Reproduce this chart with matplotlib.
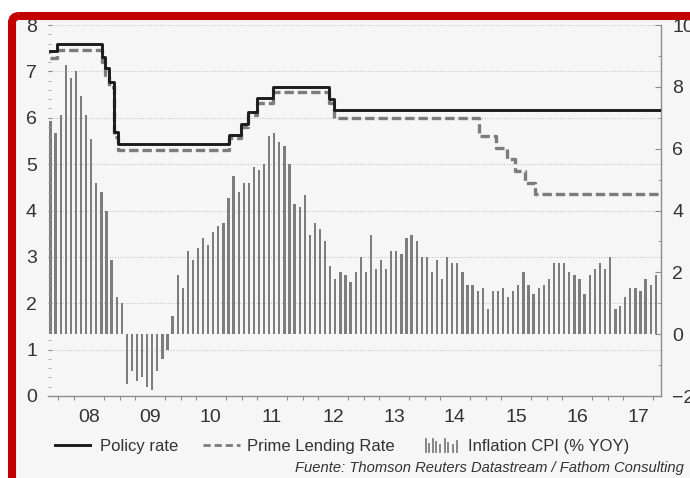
import datetime as dt
import matplotlib
matplotlib.use("Agg")
import matplotlib.pyplot as plt
import matplotlib.dates as mdates
from matplotlib.patches import FancyBboxPatch, Rectangle
from matplotlib.lines import Line2D
from matplotlib.ticker import MultipleLocator, FixedLocator

plt.rcParams['font.family'] = ['Liberation Sans', 'DejaVu Sans']

# ---------------- data ----------------
cpi_first_month = (2007, 11)
cpi_values = [
    6.9, 6.5,
    7.1, 8.7, 8.3, 8.5, 7.7, 7.1, 6.3, 4.9, 4.6, 4.0, 2.4, 1.2,
    1.0, -1.6, -1.2, -1.5, -1.4, -1.7, -1.8, -1.2, -0.8, -0.5, 0.6, 1.9,
    1.5, 2.7, 2.4, 2.8, 3.1, 2.9, 3.3, 3.5, 3.6, 4.4, 5.1, 4.6,
    4.9, 4.9, 5.4, 5.3, 5.5, 6.4, 6.5, 6.2, 6.1, 5.5, 4.2, 4.1,
    4.5, 3.2, 3.6, 3.4, 3.0, 2.2, 1.8, 2.0, 1.9, 1.7, 2.0, 2.5,
    2.0, 3.2, 2.1, 2.4, 2.1, 2.7, 2.7, 2.6, 3.1, 3.2, 3.0, 2.5,
    2.5, 2.0, 2.4, 1.8, 2.5, 2.3, 2.3, 2.0, 1.6, 1.6, 1.4, 1.5,
    0.8, 1.4, 1.4, 1.5, 1.2, 1.4, 1.6, 2.0, 1.6, 1.3, 1.5, 1.6,
    1.8, 2.3, 2.3, 2.3, 2.0, 1.9, 1.8, 1.3, 1.9, 2.1, 2.3, 2.1,
    2.5, 0.8, 0.9, 1.2, 1.5, 1.5, 1.4, 1.8, 1.6, 1.9,
]

policy_dates = ["2007-11-12", "2007-12-21", "2008-09-16", "2008-10-09", "2008-10-30",
                "2008-11-27", "2008-12-23", "2010-10-20", "2010-12-26", "2011-02-09",
                "2011-04-06", "2011-07-07", "2012-06-08", "2012-07-06", "2017-11-15"]
policy_values = [7.44, 7.60, 7.32, 7.07, 6.78, 5.70, 5.44, 5.62, 5.87, 6.12,
                 6.43, 6.67, 6.41, 6.16, 6.16]

prime_dates = ["2007-11-12", "2007-12-21", "2008-09-16", "2008-10-09", "2008-10-30",
               "2008-11-27", "2008-12-23", "2010-10-20", "2010-12-26", "2011-02-09",
               "2011-04-06", "2011-07-07", "2012-06-08", "2012-07-06", "2014-11-22",
               "2015-03-01", "2015-05-11", "2015-06-28", "2015-08-26", "2015-10-24",
               "2017-11-01"]
prime_values = [7.29, 7.47, 7.20, 6.93, 6.66, 5.58, 5.31, 5.56, 5.81, 6.06,
                6.31, 6.56, 6.31, 6.00, 5.60, 5.35, 5.10, 4.85, 4.60, 4.35, 4.35]

year_labels = ["08", "09", "10", "11", "12", "13", "14", "15", "16", "17"]
left_ticks = [0, 1, 2, 3, 4, 5, 6, 7, 8]
right_ticks = [-2, 0, 2, 4, 6, 8, 10]

legend_labels = ["Policy rate", "Prime Lending Rate", "Inflation CPI (% YOY)"]
source_text = "Fuente: Thomson Reuters Datastream / Fathom Consulting"

# ---------------- derived ----------------
def month_date(i):
    y, m = cpi_first_month
    m0 = m - 1 + i
    return dt.date(y + m0 // 12, m0 % 12 + 1, 15)

cpi_dates = [month_date(i) for i in range(len(cpi_values))]
to_date = lambda s: dt.date.fromisoformat(s)
pol_d = [to_date(s) for s in policy_dates]
pri_d = [to_date(s) for s in prime_dates]

# ---------------- figure ----------------
W, H = 690, 478
fig = plt.figure(figsize=(W / 100, H / 100), dpi=100)
fig.patch.set_facecolor("white")

bg = fig.add_axes([0, 0, 1, 1], zorder=0)
bg.set_xlim(0, W); bg.set_ylim(H, 0); bg.axis("off")
bg.add_patch(Rectangle((12, 16), 800, 600, facecolor="#f6f6f6", edgecolor="none"))

ax_l, ax_r, ax_t, ax_b = 48, 661.3, 25, 396
ax = fig.add_axes([ax_l / W, 1 - ax_b / H, (ax_r - ax_l) / W, (ax_b - ax_t) / H], zorder=2)
ax2 = ax.twinx()
ax2.set_zorder(1)
ax.set_zorder(2)
ax.patch.set_visible(False)
ax2.patch.set_visible(False)

grey_txt = "#333333"
spine_c = "#8c8c8c"

# bars (right axis)
ax2.bar(cpi_dates, cpi_values, width=14, color="#7d7d7d", zorder=2)
ax2.set_ylim(-2, 10)

# grid lines at left-axis integers (drawn behind bars)
for v in left_ticks[1:]:
    ax2.axhline(1.5 * v - 2, color="#c4c4c4", lw=0.8, ls=(0, (1, 1.5)), zorder=0)

# lines (left axis)
ax.step(pri_d, prime_values, where="post", color="#7c7c7c", lw=2.4,
        dashes=(2.8, 1.2), solid_capstyle="butt", zorder=3)
ax.step(pol_d, policy_values, where="post", color="#1c1c1c", lw=2.1, zorder=4)
ax.set_ylim(0, 8)
ax.set_xlim(dt.date(2007, 10, 31), dt.date(2017, 11, 17))

# x axis
ax.xaxis.set_major_locator(FixedLocator([mdates.date2num(dt.date(2008 + i, 7, 1)) for i in range(len(year_labels))]))
ax.set_xticklabels(year_labels)
ax.xaxis.set_minor_locator(mdates.MonthLocator(bymonth=[1, 4, 7, 10]))
ax.tick_params(axis="x", which="major", length=0, pad=9, labelsize=14, labelcolor=grey_txt)
ax.tick_params(axis="x", which="minor", length=3, width=0.8, color=spine_c, direction="out")

# left axis
ax.set_yticks(left_ticks)
ax.yaxis.set_minor_locator(MultipleLocator(0.2))
ax.tick_params(axis="y", which="major", length=3, width=0.8, color=spine_c, direction="in",
               pad=8, labelsize=14, labelcolor=grey_txt)
ax.tick_params(axis="y", which="minor", length=2, width=0.6, color="#a0a0a0", direction="in")

# right axis
ax2.set_yticks(right_ticks)
ax2.yaxis.set_minor_locator(MultipleLocator(1))
ax2.tick_params(axis="y", which="major", length=4, width=0.8, color=spine_c, direction="in",
                pad=8, labelsize=14, labelcolor=grey_txt)
ax2.tick_params(axis="y", which="minor", length=2.5, width=0.6, color=spine_c, direction="in")

for a in (ax, ax2):
    for s in ("top", "left", "right"):
        a.spines[s].set_visible(False)
ax2.spines["bottom"].set_visible(False)
ax.spines["bottom"].set_color(spine_c)
ax.spines["bottom"].set_linewidth(1.0)
ax2.spines["right"].set_visible(True)
ax2.spines["right"].set_color(spine_c)
ax2.spines["right"].set_linewidth(1.0)

# ---------------- foreground: frame, legend, source ----------------
fg = fig.add_axes([0, 0, 1, 1], zorder=10)
fg.set_xlim(0, W); fg.set_ylim(H, 0); fg.axis("off")

fg.add_patch(FancyBboxPatch((12, 16), 800, 600, boxstyle="round,pad=0,rounding_size=7",
                            facecolor="none", edgecolor="#c30000", lw=5.8))

ly = 444.5
fg.add_line(Line2D([55, 90], [ly, ly], color="#1c1c1c", lw=2.1))
fg.text(100, 451.5, legend_labels[0], fontsize=12, color=grey_txt, va="baseline", ha="left")
fg.add_line(Line2D([203, 240], [ly, ly], color="#7c7c7c", lw=2.0, dashes=(2.6, 1.4)))
fg.text(247, 451.5, legend_labels[1], fontsize=12, color=grey_txt, va="baseline", ha="left")
icon_x = [425.5, 429, 432.5, 436, 440, 444.5, 448, 452.5, 456.5]
icon_h = [13, 8, 13, 10, 7, 13, 9, 7, 11]
for xx, hh in zip(icon_x, icon_h):
    fg.add_line(Line2D([xx, xx], [451.5, 451.5 - hh], color="#7d7d7d", lw=1.3))
fg.text(468, 451.5, legend_labels[2], fontsize=12, color=grey_txt, va="baseline", ha="left")

fg.text(684, 472, source_text, fontsize=10.6, style="italic", color=grey_txt,
        va="baseline", ha="right")

fig.savefig("out.png", dpi=100, facecolor=fig.get_facecolor())
